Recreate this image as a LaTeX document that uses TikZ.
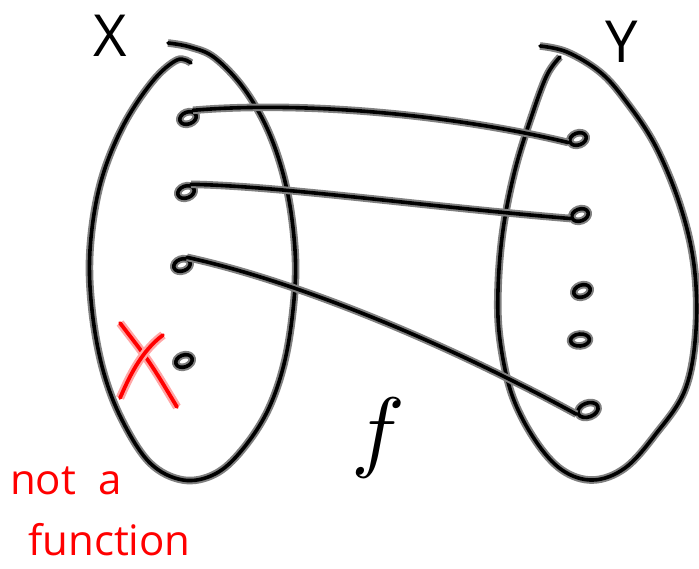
\documentclass[tikz,border=0pt]{standalone}
\usepackage{fontspec}
\setmainfont{Open Sans}
\usetikzlibrary{shapes.geometric}

\begin{document}
\begin{tikzpicture}[
        x=1pt, y=-1pt,
        pen/.style={line width=3.6pt, line cap=round, line join=round,
            preaction={draw=black!50, line width=7.6pt}},
        redpen/.style={draw=red, line width=3.8pt, line cap=round, line join=round,
            preaction={draw=red!35, line width=8.5pt}},
        dot/.style={draw, ellipse, pen, minimum width=17pt, minimum height=12pt,
            inner sep=0pt, rotate=20},
        setlabel/.style={font=\fontsize{58}{58}\selectfont, inner sep=0pt},
        redtext/.style={text=red, font=\fontsize{42}{42}\selectfont, inner sep=0pt}
    ]
\useasboundingbox (0,0) rectangle (699,568);

% the two sets
\draw[pen] plot[smooth, tension=0.6] coordinates {
    (191,63) (177,60) (152,82) (122,128) (100,185) (90,250) (92,310)
    (103,370) (122,420) (150,463) (183,480) (215,474) (242,450) (268,410)
    (285,360) (294,300) (295,250) (287,190) (270,135) (245,90) (215,58)
    (190,47) (168,43)};
\draw[pen] plot[smooth, tension=0.6] coordinates {
    (560,57) (547,75) (532,115) (515,170) (503,230) (498,290) (500,340)
    (512,395) (535,440) (562,470) (593,480) (625,468) (655,435) (685,390)
    (696,330) (694,265) (680,205) (655,145) (625,100) (600,72) (567,52)
    (540,46)};

\node[setlabel] (X) at (110,36) {X};
\node[setlabel] (Y) at (622,42) {Y};

% elements of X
\node[dot] (x1) at (188,118) {};
\node[dot] (x2) at (186,192) {};
\node[dot] (x3) at (182,265) {};
\node[dot] (x4) at (184,361) {};

% elements of Y
\node[dot] (y1) at (578,139) {};
\node[dot] (y2) at (580,215) {};
\node[dot] (y3) at (582,291) {};
\node[dot, rotate=-15, minimum width=19pt] (y4) at (580,340) {};
\node[dot, minimum width=21pt, minimum height=14pt] (y5) at (588,410) {};

% the mapping
\draw[pen] (x1.north east) .. controls (300,101) and (450,114) .. (y1.west);
\draw[pen] (x2.north east) .. controls (280,186) and (420,206) .. (y2.west);
\draw[pen] (x3.north east) .. controls (300,282) and (450,345) .. (y5.west);

\node[scale=9, inner sep=0pt] (f) at (378,438) {$f$};

% not a function
\draw[redpen] (120,323) .. controls (150,362) .. (177,407);
\draw[redpen] (163,335) .. controls (140,352) and (128,380) .. (120,398);

\node[redtext, anchor=base west] (nota) at (10,494) {not\hspace{22pt}a};
\node[redtext, anchor=base west] (fn) at (28,555) {function};

\end{tikzpicture}
\end{document}
